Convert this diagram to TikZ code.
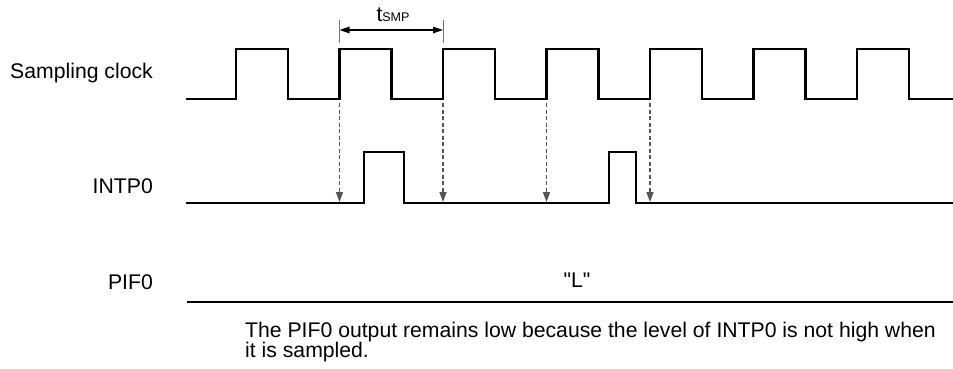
\documentclass[tikz,border=0pt]{standalone}
\usepackage{fontspec}
\setmainfont{Liberation Sans}
\newfontfamily\plainsans{Liberation Sans}
\usetikzlibrary{arrows.meta}
\definecolor{dashgray}{HTML}{555555}
\definecolor{extgray}{HTML}{707070}
\tikzset{
  wave/.style={line width=2.2pt, line join=miter, line cap=rect},
  flatwave/.style={line width=2.6pt},
  samparrow/.style={dashgray, line width=1.4pt, dash pattern=on 4pt off 2.5pt, -{Triangle[length=10pt,width=7pt]}},
  extline/.style={extgray, line width=0.9pt},
  dimarrow/.style={line width=1.4pt, {Triangle[length=10pt,width=6.5pt]}-{Triangle[length=10pt,width=6.5pt]}},
  lbl/.style={inner sep=0pt, font=\plainsans\fontsize{21.2}{24}\selectfont},
}
\begin{document}
\begin{tikzpicture}[x=1pt,y=-1pt]
\useasboundingbox (0,0) rectangle (953,368);
% sampling clock
\draw[wave] (187,99) -| (236,49) -| (288,99) -| (339.5,49) -| (391.5,99)
  -| (443,49) -| (495,99) -| (546.5,49) -| (598.5,99) -| (650,49) -| (702,99)
  -| (753.5,49) -| (805.5,99) -| (857,49) -| (909,99) -- (953,99);
% INTP0
\draw[wave] (187,203) -| (364,152) -| (404,203) -| (609,152) -| (636,203) -- (953,203);
% PIF0
\draw[flatwave] (187,302) -- (953,302);
% labels
\node[lbl, anchor=base east] (lclk) at (153,78) {Sampling clock};
\node[lbl, anchor=base east] (lint) at (153,193) {INTP0};
\node[lbl, anchor=base east] (lpif) at (153,289) {PIF0};
\node[lbl, anchor=base] (lL) at (577,287) {"L"};
% sampling points
\coordinate (c1) at (339.5,99); \coordinate (i1) at (339.5,202);
\coordinate (c2) at (443,99);   \coordinate (i2) at (443,202);
\coordinate (c3) at (546.5,99); \coordinate (i3) at (546.5,202);
\coordinate (c4) at (650,99);   \coordinate (i4) at (650,202);
\foreach \k in {1,2,3,4} {
  \draw[samparrow] ([yshift=-4pt]c\k) -- (i\k);
}
% tSMP dimension
\coordinate (e1t) at (339.5,20); \coordinate (e1b) at (339.5,43);
\coordinate (e2t) at (443,20);   \coordinate (e2b) at (443,43);
\draw[extline] (e1t) -- (e1b);
\draw[extline] (e2t) -- (e2b);
\coordinate (d1) at (339.5,30); \coordinate (d2) at (443,30);
\draw[dimarrow] (d1) -- (d2);
\node[lbl, anchor=base] (ltsmp) at (393,21) {t{\fontsize{12.5}{14}\selectfont SMP}};
% note
\node[lbl, anchor=base west, align=left, font=\plainsans\fontsize{21.2}{20}\selectfont] (note) at (245,357)
  {The PIF0 output remains low because the level of INTP0 is not high when\\it is sampled.};
\end{tikzpicture}
\end{document}
